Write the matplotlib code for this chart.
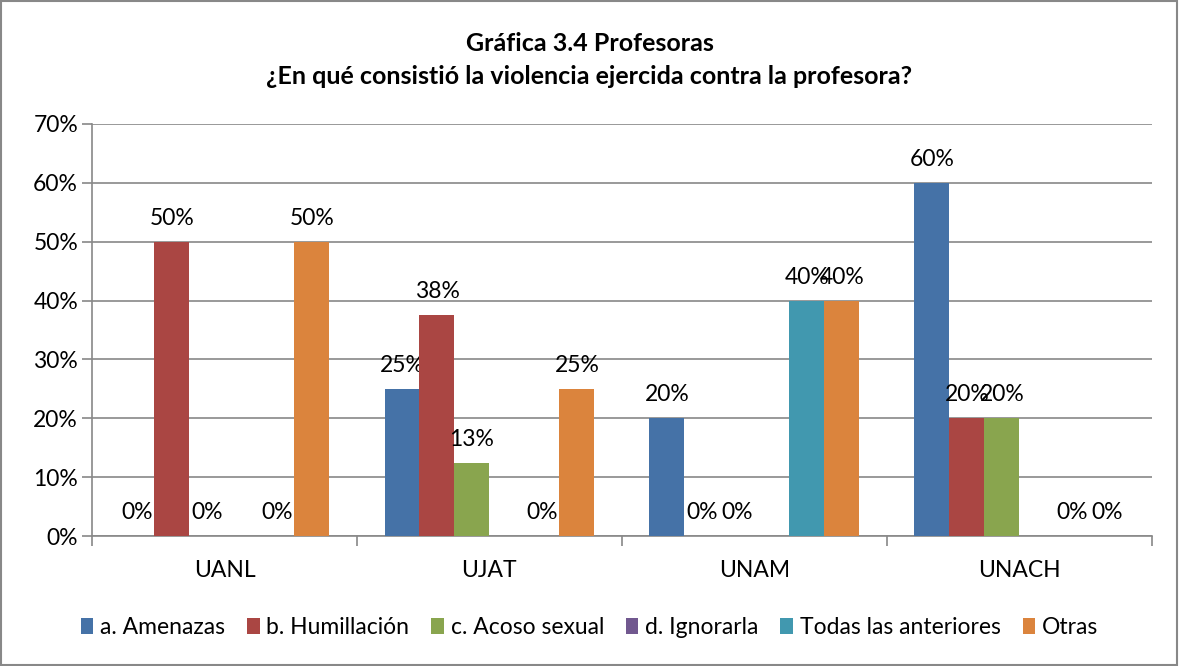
import numpy as np
import matplotlib.pyplot as plt
from matplotlib.patches import Rectangle

plt.rcParams['font.family'] = ['Lato', 'DejaVu Sans']

universidades = ['UANL', 'UJAT', 'UNAM', 'UNACH']
series = ['a. Amenazas', 'b. Humillación', 'c. Acoso sexual', 'd. Ignorarla',
          'Todas las anteriores', 'Otras']
amenazas = [0, 25, 20, 60]
humillacion = [50, 37.5, 0, 20]
acoso = [0, 12.5, 0, 20]
ignorarla = [np.nan, np.nan, np.nan, np.nan]
todas = [0, 0, 40, 0]
otras = [50, 25, 40, 0]
valores = [amenazas, humillacion, acoso, ignorarla, todas, otras]
colores = ['#4572A7', '#AA4643', '#89A54E', '#71588F', '#4198AF', '#DB843D']

fig = plt.figure(figsize=(11.79, 6.66), dpi=100)
fig.patches.append(Rectangle((0.001, 0.002), 0.997, 0.996, transform=fig.transFigure,
                             fill=False, edgecolor='#888888', lw=1.5))
ax = fig.add_axes([0.078, 0.195, 0.899, 0.619])

x = np.arange(len(universidades))
w = 0.132
for i, (nombre, vals, col) in enumerate(zip(series, valores, colores)):
	pos = x + (i - 2.5) * w
	alturas = np.nan_to_num(np.array(vals, dtype=float))
	ax.bar(pos, alturas, w, color=col, label=nombre, zorder=3)
	for p, v in zip(pos, vals):
		if np.isnan(v):
			continue
		ax.annotate('{:.0f}%'.format(np.floor(v + 0.5)), (p, v), xytext=(0, 13),
		            textcoords='offset pixels', ha='center', va='bottom', fontsize=16.5)

ax.set_xlim(-0.5, 3.5)
ax.set_ylim(0, 70)
ax.set_yticks(np.arange(0, 71, 10))
ax.set_yticklabels(['{}%'.format(t) for t in range(0, 71, 10)], fontsize=16.5)
ax.set_xticks(x)
ax.set_xticklabels(universidades, fontsize=16.5)
ax.set_xticks(np.arange(-0.5, 3.6, 1), minor=True)
ax.tick_params(axis='x', which='major', length=0, pad=17)
ax.tick_params(axis='x', which='minor', length=7, color='#888888', width=1.2)
ax.tick_params(axis='y', length=7, color='#888888', width=1.2, pad=3)
ax.yaxis.grid(True, color='#888888', lw=1.2, zorder=0)
for s in ['top', 'right']:
	ax.spines[s].set_visible(False)
for s in ['left', 'bottom']:
	ax.spines[s].set_color('#888888')
	ax.spines[s].set_linewidth(1.2)

fig.text(0.5, 0.91, 'Gráfica 3.4 Profesoras\n¿En qué consistió la violencia ejercida contra la profesora?',
         ha='center', va='center', fontsize=18, fontweight='bold', linespacing=1.5)

fig.legend(loc='center', bbox_to_anchor=(0.5, 0.058), ncol=6, frameon=False, fontsize=16.5,
           handlelength=0.55, handleheight=0.7, handletextpad=0.3, columnspacing=0.95)

plt.savefig('out.png', dpi=100)
